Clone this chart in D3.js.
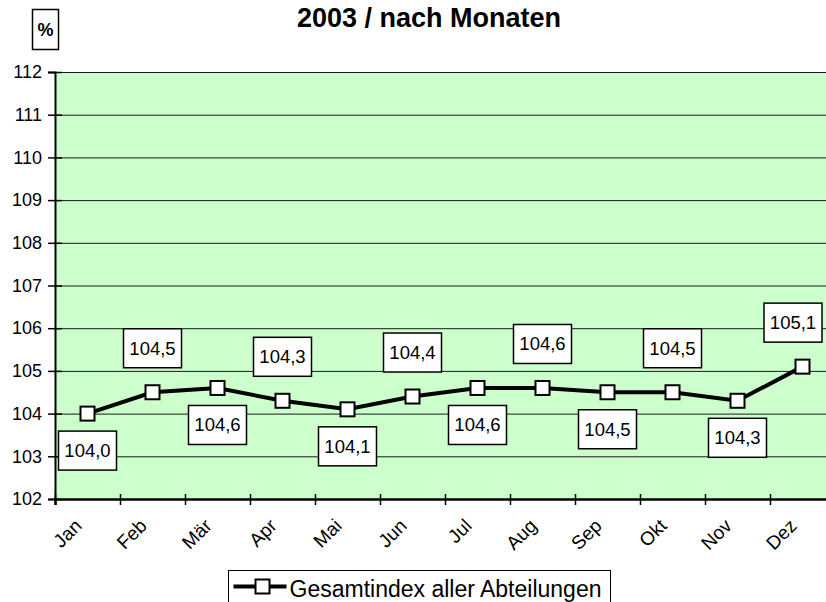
<!DOCTYPE html>
<html>
<head>
<meta charset="utf-8">
<script src="https://cdn.jsdelivr.net/npm/d3@7"></script>
<style>
  body { margin: 0; background: #fff; }
  svg { display: block; font-family: "Liberation Sans", Arial, sans-serif; }
</style>
</head>
<body>
<svg id="chart" width="826" height="602"></svg>
<script>
// Data
var months = ["Jan", "Feb", "Mär", "Apr", "Mai", "Jun", "Jul", "Aug", "Sep", "Okt", "Nov", "Dez"];
var values = [104.0, 104.5, 104.6, 104.3, 104.1, 104.4, 104.6, 104.6, 104.5, 104.5, 104.3, 105.1];
var yTicks = [102, 103, 104, 105, 106, 107, 108, 109, 110, 111, 112];
var seriesName = "Gesamtindex aller Abteilungen";

var svg = d3.select("#chart");
var width = +svg.attr("width");

// plot area (runs past the right edge, as in the original)
var plotLeft = 55, plotRight = 835, plotTop = 72, plotBottom = 499;

var x = d3.scaleBand().domain(months).range([plotLeft, plotRight]);
var xEdge = d3.scaleLinear().domain([0, months.length]).range([plotLeft, plotRight]);
var y = d3.scaleLinear().domain([102, 112]).range([plotBottom, plotTop]);

var fmt = function(v) { return d3.format(".1f")(v).replace(".", ","); };
var cxOf = function(i) { return x(months[i]) + x.bandwidth() / 2; };

// Plot background
svg.append("rect")
    .attr("x", plotLeft).attr("y", plotTop)
    .attr("width", plotRight - plotLeft).attr("height", plotBottom - plotTop)
    .attr("fill", "#ccffcc");

// Gridlines
svg.append("g")
    .selectAll("line")
    .data(yTicks.slice(1))
    .enter().append("line")
    .attr("x1", plotLeft).attr("x2", plotRight)
    .attr("y1", function(d) { return y(d) + 0.5; })
    .attr("y2", function(d) { return y(d) + 0.5; })
    .attr("stroke", "#1a1a1a")
    .attr("stroke-width", 1);

// Y axis
var yAxis = svg.append("g")
    .attr("transform", "translate(" + plotLeft + ",0)")
    .call(d3.axisLeft(y).tickValues(yTicks).tickSize(7).tickPadding(6));
yAxis.select(".domain").attr("stroke", "#000").attr("stroke-width", 2);
yAxis.selectAll(".tick line").attr("x1", 7).attr("stroke-width", 1.5);
yAxis.selectAll(".tick text")
    .attr("font-size", 18)
    .attr("fill", "#000")
    .attr("font-family", "Liberation Sans, Arial, sans-serif");

// X axis (ticks on category boundaries)
var xAxis = svg.append("g")
    .attr("transform", "translate(0," + plotBottom + ")")
    .call(d3.axisBottom(xEdge).ticks(months.length).tickSize(6).tickFormat(""));
xAxis.select(".domain").attr("stroke", "#000").attr("stroke-width", 2.5);
xAxis.selectAll(".tick line").attr("y1", -5).attr("stroke-width", 1.5);

// Month labels
svg.append("g")
    .selectAll("text")
    .data(months)
    .enter().append("text")
    .attr("transform", function(d, i) {
        return "translate(" + (cxOf(i) - 4.5) + ",527) rotate(-45)";
    })
    .attr("text-anchor", "end")
    .attr("font-size", 19)
    .text(function(d) { return d; });

// Line
var line = d3.line()
    .x(function(d, i) { return cxOf(i); })
    .y(function(d) { return y(d); });

svg.append("path")
    .datum(values)
    .attr("d", line)
    .attr("fill", "none")
    .attr("stroke", "#000")
    .attr("stroke-width", 4);

// Markers
var ms = 14;
svg.append("g")
    .selectAll("rect")
    .data(values)
    .enter().append("rect")
    .attr("x", function(d, i) { return cxOf(i) - ms / 2; })
    .attr("y", function(d) { return y(d) - ms / 2; })
    .attr("width", ms).attr("height", ms)
    .attr("fill", "#fff")
    .attr("stroke", "#000")
    .attr("stroke-width", 2);

// Data labels, alternating below / above, kept inside the picture
var bw = 58, bh = 39;
var labels = svg.append("g")
    .selectAll("g")
    .data(values)
    .enter().append("g")
    .attr("transform", function(d, i) {
        var cx = Math.min(cxOf(i), width - 4 - bw / 2);
        var cy = y(d) + (i % 2 === 0 ? 37 : -44);
        return "translate(" + cx + "," + cy + ")";
    });
labels.append("rect")
    .attr("x", -bw / 2).attr("y", -bh / 2)
    .attr("width", bw).attr("height", bh)
    .attr("fill", "#fff")
    .attr("stroke", "#000")
    .attr("stroke-width", 1.5);
labels.append("text")
    .attr("text-anchor", "middle")
    .attr("y", 6.5)
    .attr("font-size", 18.5)
    .text(function(d) { return fmt(d); });

// Title
svg.append("text")
    .attr("x", 429).attr("y", 27)
    .attr("text-anchor", "middle")
    .attr("font-size", 27)
    .attr("font-weight", "bold")
    .text("2003 / nach Monaten");

// Unit box
svg.append("rect")
    .attr("x", 32.5).attr("y", 9.5)
    .attr("width", 26).attr("height", 40)
    .attr("fill", "#fff")
    .attr("stroke", "#000")
    .attr("stroke-width", 1.5);
svg.append("text")
    .attr("x", 45.5).attr("y", 36)
    .attr("text-anchor", "middle")
    .attr("font-size", 18)
    .attr("font-weight", "bold")
    .text("%");

// Legend
var legend = svg.append("g").attr("transform", "translate(228.5,570.5)");
legend.append("rect")
    .attr("width", 382).attr("height", 45)
    .attr("fill", "#fff")
    .attr("stroke", "#000")
    .attr("stroke-width", 1);
legend.append("line")
    .attr("x1", 5).attr("x2", 58)
    .attr("y1", 16).attr("y2", 16)
    .attr("stroke", "#000")
    .attr("stroke-width", 4);
legend.append("rect")
    .attr("x", 27).attr("y", 9)
    .attr("width", 14).attr("height", 14)
    .attr("fill", "#fff")
    .attr("stroke", "#000")
    .attr("stroke-width", 2);
legend.append("text")
    .attr("x", 61).attr("y", 26)
    .attr("font-size", 23)
    .text(seriesName);
</script>
</body>
</html>
